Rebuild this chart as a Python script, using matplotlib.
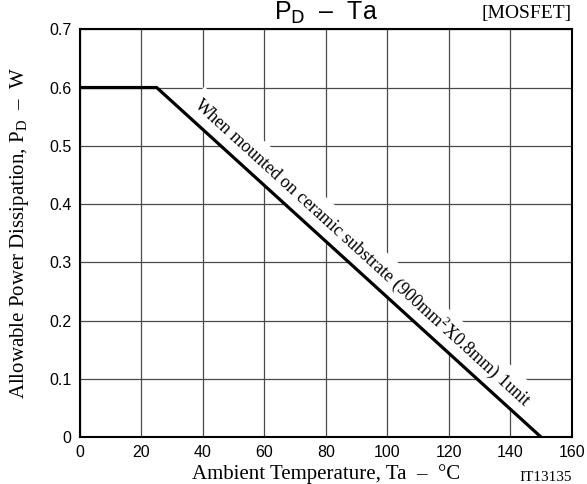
import numpy as np
import matplotlib
matplotlib.use('Agg')
import matplotlib.pyplot as plt

plt.rcParams.update({'font.family': 'Liberation Sans', 'mathtext.fontset': 'custom',
                     'mathtext.rm': 'Liberation Serif'})

# derating curve (Ta in degC, PD in W)
ta = [0, 25, 150]
pd_w = [0.6, 0.6, 0.0]

x_ticks = [0, 20, 40, 60, 80, 100, 120, 140, 160]
y_ticks = [0, 0.1, 0.2, 0.3, 0.4, 0.5, 0.6, 0.7]
y_tick_labels = ['0', '0.1', '0.2', '0.3', '0.4', '0.5', '0.6', '0.7']

note = 'When mounted on ceramic substrate (900mm$^2$X0.8mm) 1unit'

serif = 'Liberation Serif'

fig = plt.figure(figsize=(5.87, 4.84), dpi=100)
ax = fig.add_axes([0.136, 0.097, 0.838, 0.8425])

ax.plot(ta, pd_w, color='black', linewidth=2.3, zorder=3, solid_joinstyle='miter')

ax.set_xlim(0, 160)
ax.set_ylim(0, 0.7)
ax.set_xticks(x_ticks)
ax.set_yticks(y_ticks)
ax.set_yticklabels(y_tick_labels)
ax.tick_params(length=0, pad=6, labelsize=11.5)
ax.grid(True, color='#4a4a4a', linewidth=0.9)
ax.set_axisbelow(True)
for s in ax.spines.values():
    s.set_linewidth(1.5)

# label along the slope
ang = np.degrees(np.arctan2(pd_w[2] - pd_w[1], ta[2] - ta[1]))
ax.text(92.0, 0.318, note, rotation=ang, transform_rotates_text=True,
        rotation_mode='anchor', ha='center', va='center', family=serif, fontsize=13,
        bbox=dict(facecolor='white', edgecolor='none', pad=3), zorder=2)

ax.set_title(r'P$_\mathsf{D}$  –  Ta', fontsize=18, pad=7)
ax.text(1.0, 1.027, '[MOSFET]', transform=ax.transAxes, ha='right', va='baseline',
        family=serif, fontsize=14)
ax.text(1.0, -0.108, 'IT13135', transform=ax.transAxes, ha='right', va='baseline',
        family=serif, fontsize=11)

ax.set_xlabel('Ambient Temperature, Ta  –  °C', family=serif, fontsize=15)
ax.set_ylabel(r'Allowable Power Dissipation, P$_\mathregular{D}$  –  W', family=serif, fontsize=15)
ax.xaxis.set_label_coords(0.5, -0.066)
ax.yaxis.set_label_coords(-0.10, 0.5)

fig.savefig('out.png', dpi=100)
